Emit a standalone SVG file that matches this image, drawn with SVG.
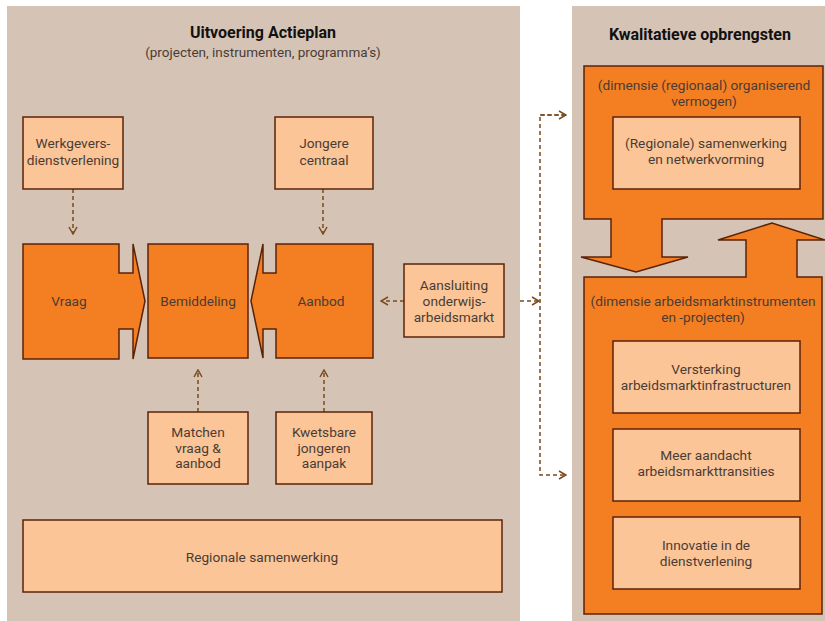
<svg xmlns="http://www.w3.org/2000/svg" width="825" height="621" viewBox="0 0 825 621">
<style>
.panel{fill:#d5c4b6}
.org{fill:#f47f22;stroke:#5c2208;stroke-width:1.5}
.lt{fill:#fbc598;stroke:#5c2208;stroke-width:1.5}
text{font-family:Roboto,"Liberation Sans",sans-serif;font-size:13.7px;fill:#4a3c34;text-anchor:middle}
.title{font-weight:bold;font-size:16px;fill:#111}
.sub{font-size:13.5px}
.con{fill:none;stroke:#7a4a1c;stroke-width:1.5;stroke-dasharray:4 3}
</style>
<defs>
<marker id="ah" viewBox="0 0 10 10" refX="9" refY="5" markerWidth="10" markerHeight="10" markerUnits="userSpaceOnUse" orient="auto">
<path d="M2,1 L9,5 L2,9" fill="none" stroke="#7a4a1c" stroke-width="1.5"/>
</marker>
</defs>
<rect width="825" height="621" fill="#ffffff"/>
<rect class="panel" x="7" y="6" width="513" height="615"/>
<rect class="panel" x="572" y="6" width="253" height="615"/>

<text class="title" x="263" y="38">Uitvoering Actieplan</text>
<text class="sub" x="263" y="57">(projecten, instrumenten, programma’s)</text>
<text class="title" x="700" y="40">Kwalitatieve opbrengsten</text>

<g id="connectors">
<path class="con" d="M73,189 V234" marker-end="url(#ah)"/>
<path class="con" d="M323,189 V234" marker-end="url(#ah)"/>
<path class="con" d="M198,412 V370" marker-end="url(#ah)"/>
<path class="con" d="M324,412 V370" marker-end="url(#ah)"/>
<path class="con" d="M404,301 H381" marker-end="url(#ah)"/>
<path class="con" d="M520,301 H539" marker-end="url(#ah)"/>
<path class="con" d="M566,115 H540 V475 H566" marker-end="url(#ah)"/>
<path class="con" d="M540,115 H566" marker-end="url(#ah)"/>
</g>

<g id="werkgevers">
<rect class="lt" x="23" y="117" width="100" height="72"/>
<text x="73" y="148">Werkgevers-</text>
<text x="73" y="165">dienstverlening</text>
</g>
<g id="jongere">
<rect class="lt" x="275" y="117" width="98" height="72"/>
<text x="324" y="148">Jongere</text>
<text x="324" y="165">centraal</text>
</g>
<g id="vraag">
<path class="org" d="M23,244 H119 V273 H133 V244 L145,301 L133,359 V329 H119 V359 H23 Z"/>
<text x="69" y="306">Vraag</text>
</g>
<g id="bemiddeling">
<rect class="org" x="148" y="244" width="100" height="114"/>
<text x="198" y="306">Bemiddeling</text>
</g>
<g id="aanbod">
<path class="org" d="M373,244 H276 V273 H263 V244 L251,301 L263,358 V329 H276 V358 H373 Z"/>
<text x="321" y="306">Aanbod</text>
</g>
<g id="aansluiting">
<rect class="lt" x="404" y="264" width="100" height="73"/>
<text x="454" y="290">Aansluiting</text>
<text x="454" y="306">onderwijs-</text>
<text x="454" y="322">arbeidsmarkt</text>
</g>
<g id="matchen">
<rect class="lt" x="148" y="412" width="100" height="72"/>
<text x="198" y="437">Matchen</text>
<text x="198" y="453">vraag &amp;</text>
<text x="198" y="468">aanbod</text>
</g>
<g id="kwetsbare">
<rect class="lt" x="276" y="412" width="96" height="72"/>
<text x="324" y="437">Kwetsbare</text>
<text x="324" y="453">jongeren</text>
<text x="324" y="468">aanpak</text>
</g>
<g id="regionale">
<rect class="lt" x="23" y="520" width="479" height="72"/>
<text x="262" y="562">Regionale samenwerking</text>
</g>

<g id="dim-organiserend">
<path class="org" d="M584,66 H823 V219 H662 V257 H688 L636,272 L581,257 H611 V219 H584 Z"/>
<text x="704" y="90">(dimensie (regionaal) organiserend</text>
<text x="704" y="106">vermogen)</text>
<rect class="lt" x="613" y="117" width="187" height="72"/>
<text x="706" y="148">(Regionale) samenwerking</text>
<text x="706" y="164">en netwerkvorming</text>
</g>
<g id="dim-instrumenten">
<path class="org" d="M584,277 H746 V240 H718 L772,223 L825,240 H797 V277 H822 V614 H584 Z"/>
<text x="703" y="306">(dimensie arbeidsmarktinstrumenten</text>
<text x="703" y="322">en -projecten)</text>
<rect class="lt" x="613" y="341" width="187" height="72"/>
<text x="706" y="374">Versterking</text>
<text x="706" y="390">arbeidsmarktinfrastructuren</text>
<rect class="lt" x="613" y="429" width="187" height="72"/>
<text x="706" y="460">Meer aandacht</text>
<text x="706" y="476">arbeidsmarkttransities</text>
<rect class="lt" x="613" y="517" width="187" height="72"/>
<text x="706" y="550">Innovatie in de</text>
<text x="706" y="566">dienstverlening</text>
</g>
</svg>
